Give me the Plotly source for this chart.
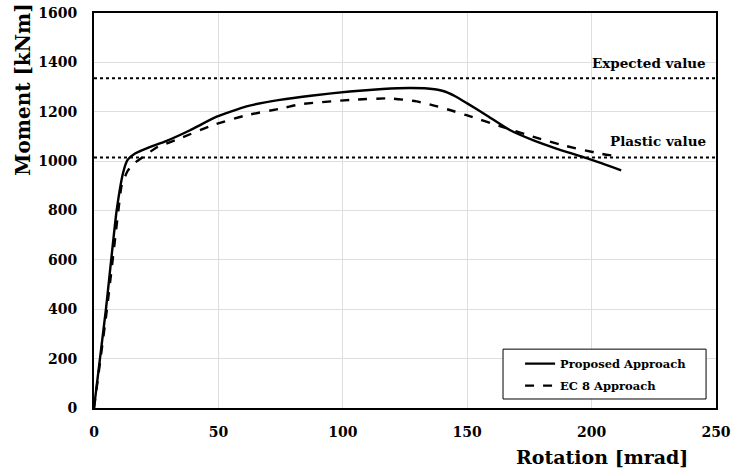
import plotly.graph_objects as go

# Proposed Approach
prop_x = [0, 4.8, 9.1, 11.8, 13.5, 16.5, 21.2, 29.2, 38.6, 49.3, 61.3, 74.7, 88.0, 102.8, 116.0, 126.9, 134.0, 140.3, 145.0, 150.0, 157.7, 167.1, 176.4, 185.8, 196.5, 211.9]
prop_y = [0, 400, 800, 957, 1005, 1031, 1052, 1082, 1125, 1180, 1222, 1248, 1266, 1282, 1292, 1296, 1294, 1284, 1264, 1234, 1186, 1126, 1085, 1051, 1017, 963]

# EC 8 Approach
ec8_x = [0, 5.2, 9.8, 11.1, 13.5, 16.0, 19.0, 25.2, 34.5, 47.9, 61.3, 74.7, 82.7, 102.8, 118.9, 129.6, 136.3, 143.0, 149.7, 163.1, 176.4, 189.8, 203.2, 209.9]
ec8_y = [0, 400, 800, 900, 960, 990, 1012, 1055, 1092, 1146, 1186, 1212, 1230, 1248, 1254, 1242, 1226, 1207, 1186, 1142, 1099, 1061, 1031, 1020]

expected_value = 1336
plastic_value = 1015

x_ticks = [0, 50, 100, 150, 200, 250]
y_ticks = [0, 200, 400, 600, 800, 1000, 1200, 1400, 1600]

FONT = "DejaVu Serif"

fig = go.Figure()
fig.add_trace(go.Scatter(x=prop_x, y=prop_y, mode="lines", name="<b>Proposed Approach</b>",
                         legendgroup="a",
                         line=dict(color="black", width=2.4, shape="spline", smoothing=0.5)))
fig.add_trace(go.Scatter(x=ec8_x, y=ec8_y, mode="lines", name="<b>EC 8 Approach</b>",
                         legendgroup="b",
                         line=dict(color="black", width=2.4, dash="dash", shape="spline", smoothing=0.5)))

fig.add_hline(y=expected_value, line=dict(color="black", width=2, dash="dot"))
fig.add_hline(y=plastic_value, line=dict(color="black", width=2, dash="dot"))

# legend frame
fig.add_shape(type="rect", xref="paper", yref="paper", x0=0.6576, x1=0.984, y0=0.0228, y1=0.149,
              line=dict(color="black", width=1), fillcolor="white", layer="above")

fig.add_annotation(x=1, xref="paper", y=expected_value, yref="y", text="<b>Expected value</b>",
                   showarrow=False, xanchor="right", yanchor="middle", xshift=-8, yshift=15,
                   font=dict(family=FONT, size=13.5, color="black"))
fig.add_annotation(x=1, xref="paper", y=plastic_value, yref="y", text="<b>Plastic value</b>",
                   showarrow=False, xanchor="right", yanchor="middle", xshift=-8, yshift=16,
                   font=dict(family=FONT, size=13.5, color="black"))

fig.add_annotation(x=0.958, xref="paper", y=-0.124, yref="paper", text="<b>Rotation [mrad]</b>",
                   showarrow=False, xanchor="right", yanchor="middle",
                   font=dict(family=FONT, size=19, color="black"))
fig.add_annotation(x=-0.114, xref="paper", y=0.806, yref="paper", text="<b>Moment [kNm]</b>",
                   showarrow=False, xanchor="center", yanchor="middle", textangle=-90,
                   font=dict(family=FONT, size=20, color="black"))

fig.update_xaxes(range=[0, 250], tickvals=x_ticks, ticktext=[f"<b>{v}</b>" for v in x_ticks],
                 showgrid=True, gridcolor="#dedede", gridwidth=1,
                 showline=True, linecolor="black", linewidth=2, mirror=True,
                 ticks="", zeroline=False, ticklabelstandoff=10, automargin=False,
                 ticklabeloverflow="allow",
                 tickfont=dict(family=FONT, size=14, color="black"))
fig.update_yaxes(range=[0, 1600], tickvals=y_ticks, ticktext=[f"<b>{v}</b>" for v in y_ticks],
                 showgrid=True, gridcolor="#dedede", gridwidth=1,
                 showline=True, linecolor="black", linewidth=2, mirror=True,
                 ticks="", zeroline=False, ticklabelstandoff=12, automargin=False,
                 ticklabeloverflow="allow",
                 tickfont=dict(family=FONT, size=14, color="black"))

fig.update_layout(
    width=731, height=473,
    margin=dict(l=94, r=15, t=13, b=65),
    paper_bgcolor="white", plot_bgcolor="white",
    showlegend=True,
    legend=dict(x=0.685, y=0.149, xanchor="left", yanchor="top",
                bgcolor="rgba(0,0,0,0)", borderwidth=0,
                font=dict(family=FONT, size=11.5, color="black"),
                tracegroupgap=3, itemwidth=30),
)

fig.write_html("out.html", config={"displayModeBar": False},
               post_script="document.body.style.margin='0';document.body.style.overflow='hidden';")
